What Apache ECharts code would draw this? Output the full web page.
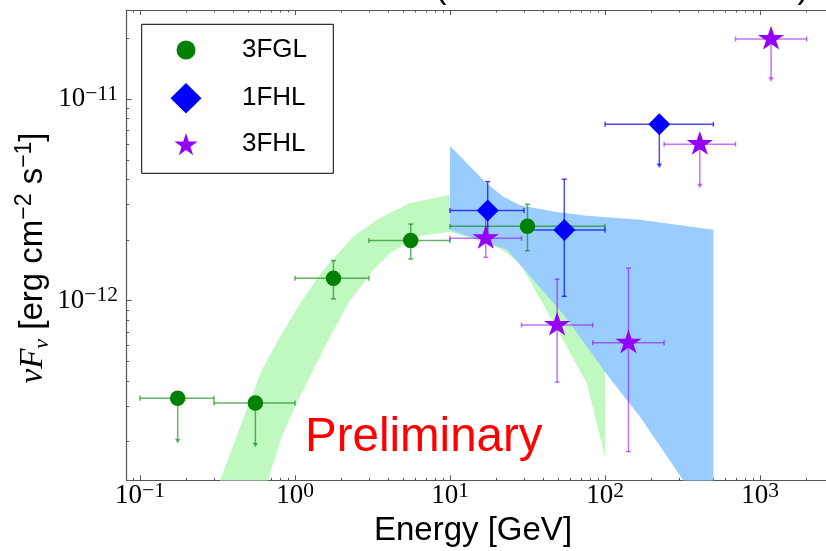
<!DOCTYPE html>
<html><head><meta charset="utf-8">
<script src="https://cdn.jsdelivr.net/npm/echarts@6/dist/echarts.min.js"></script>
<style>html,body{margin:0;padding:0;background:#fff}#c{width:826px;height:551px}</style>
</head><body><div id="c"></div>
<script>
// ---------------- data (energies in GeV, fluxes in erg cm^-2 s^-1) ----------------
// 3FGL
const fglE    = [0.175, 0.555, 1.77, 5.58, 31.6];
const fglEmin = [0.1, 0.3, 1, 3, 10];
const fglEmax = [0.3, 1, 3, 10, 100];
const fglF    = [3.28e-13, 3.10e-13, 1.29e-12, 1.99e-12, 2.34e-12];
const fglFlo  = [1.96e-13, 1.87e-13, 1.02e-12, 1.61e-12, 1.77e-12];
const fglFhi  = [3.28e-13, 3.10e-13, 1.58e-12, 2.40e-12, 3.01e-12];
const fglUL   = [1, 1, 0, 0, 0];
// 1FHL
const fhlE    = [17.5, 54.6, 224];
const fhlEmin = [10, 30, 100];
const fhlEmax = [30, 100, 500];
const fhlF    = [2.80e-12, 2.24e-12, 7.51e-12];
const fhlFlo  = [2.05e-12, 1.05e-12, 4.56e-12];
const fhlFhi  = [3.90e-12, 4.01e-12, 7.51e-12];
const fhlUL   = [0, 0, 1];
// 3FHL
const thlE    = [17.0, 49.1, 141.6, 408.8, 1178];
const thlEmin = [10, 28.9, 83.3, 240.6, 694.5];
const thlEmax = [28.9, 83.3, 240.6, 694.5, 2000];
const thlF    = [2.04e-12, 7.57e-13, 6.18e-13, 5.98e-12, 1.99e-11];
const thlFlo  = [1.64e-12, 3.94e-13, 1.78e-13, 3.61e-12, 1.22e-11];
const thlFhi  = [3.00e-12, 1.28e-12, 1.45e-12, 5.98e-12, 1.99e-11];
const thlUL   = [0, 0, 0, 1, 1];
// 3FGL butterfly (upper edge, lower edge)
const gUpE = [0.328, 0.61, 0.80, 1.08, 1.52, 2.38, 3.37, 5.52, 10, 15.6, 28.3, 51.3, 100];
const gUpF = [1.28e-13, 4.53e-13, 6.62e-13, 9.71e-13, 1.42e-12, 2.08e-12, 2.52e-12, 3.05e-12, 3.35e-12, 3.31e-12, 2.75e-12, 1.89e-12, 1.0e-12];
const gLoE = [0.667, 0.821, 1.026, 1.31, 1.68, 2.21, 3.20, 4.10, 6.10, 10, 17.2, 21.6, 28.3, 44.2, 76.2, 100];
const gLoF = [1.28e-13, 2.11e-13, 3.10e-13, 4.53e-13, 6.62e-13, 9.71e-13, 1.42e-12, 1.72e-12, 2.08e-12, 2.20e-12, 1.93e-12, 1.79e-12, 1.53e-12, 8.33e-13, 3.89e-13, 1.68e-13];
// 1FHL butterfly
const bUpE = [10, 13.5, 17.2, 22.1, 28.3, 46.4, 76.2, 168, 500, 500];
const bUpF = [5.86e-12, 4.63e-12, 3.83e-12, 3.28e-12, 2.98e-12, 2.77e-12, 2.64e-12, 2.52e-12, 2.25e-12, 1.28e-13];
const bLoE = [10, 23.3, 55.2, 101, 168, 320];
const bLoF = [2.25e-12, 1.79e-12, 8.33e-13, 4.37e-13, 2.65e-13, 1.28e-13];
// axis ticks (exponents)
const xMajorExp = [-1, 0, 1, 2, 3];
const yMajorExp = [-12, -11];
const xRange = [-1.0858, 3.490];
const yRange = [-12.892, -10.557];

// ---------------- build ----------------
const lg = Math.log10;
function minorTicks(lo, hi) {
  const out = [];
  for (let n = Math.floor(lo) - 1; n <= Math.ceil(hi); n++)
    for (let k = 2; k <= 9; k++) { const v = n + lg(k); if (v > lo && v < hi) out.push(v); }
  return out;
}
const xMinor = minorTicks(xRange[0], xRange[1]);
const yMinor = minorTicks(yRange[0], yRange[1]);

function starPts(cx, cy, r, ri) {
  const p = [];
  for (let k = 0; k < 10; k++) {
    const a = -Math.PI / 2 + k * Math.PI / 5, rr = k % 2 ? ri : r;
    p.push([cx + rr * Math.cos(a), cy + rr * Math.sin(a)]);
  }
  return p;
}
const starPath = 'path://' + starPts(0, 0, 10, 3.82).map((p, i) => (i ? 'L' : 'M') + p[0].toFixed(3) + ' ' + p[1].toFixed(3)).join(' ') + ' Z';

const lineC = '#555';
const supLabel = v => '{b|10}{s|' + (v < 0 ? '\u2212' + (-Math.round(v)) : Math.round(v)) + '}';
const labRich = {
  b: { fontFamily: 'Liberation Serif', fontSize: 27, lineHeight: 32, color: '#000' },
  s: { fontFamily: 'Liberation Serif', fontSize: 21.5, lineHeight: 19, verticalAlign: 'top', color: '#000' }
};
const G = { left: 126.7, top: 10, width: 709.3, height: 470.3, outerBoundsMode: 'none', containLabel: false };

function bandSeries(upE, upF, loE, loF, color, z) {
  const E = upE.concat(loE.slice().reverse());
  const F = upF.concat(loF.slice().reverse());
  const data = E.map((e, i) => [lg(e), lg(F[i])]);
  return {
    type: 'custom', xAxisIndex: 0, yAxisIndex: 0, z, silent: true, clip: false,
    data, encode: { x: 0, y: 1 },
    renderItem(params, api) {
      if (params.dataIndex !== 0) return null;
      return { type: 'polygon', shape: { points: data.map(d => api.coord(d)) }, style: { fill: color } };
    }
  };
}
function errSeries(E, Emin, Emax, F, Flo, Fhi, UL, color) {
  const data = E.map((e, i) => [lg(e), lg(F[i]), lg(Emin[i]), lg(Emax[i]), lg(Flo[i]), lg(Fhi[i]), UL[i]]);
  return {
    type: 'custom', xAxisIndex: 0, yAxisIndex: 0, z: 3, silent: true, clip: false,
    data, encode: { x: 0, y: 1 },
    renderItem(params, api) {
      const x = api.value(0), y = api.value(1);
      const p = api.coord([x, y]);
      const pl = api.coord([api.value(2), y]), pr = api.coord([api.value(3), y]);
      const st = { stroke: color, lineWidth: 1.5, fill: null };
      const c = 2.5, ch = [];
      const L = (x1, y1, x2, y2) => ch.push({ type: 'line', shape: { x1, y1, x2, y2 }, style: st });
      L(pl[0], p[1], pr[0], p[1]);
      L(pl[0], p[1] - c, pl[0], p[1] + c);
      L(pr[0], p[1] - c, pr[0], p[1] + c);
      const pb = api.coord([x, api.value(4)]);
      if (api.value(6)) {
        L(p[0], p[1], p[0], pb[1] - 3);
        ch.push({ type: 'polygon', shape: { points: [[p[0] - 2.8, pb[1] - 4.5], [p[0] + 2.8, pb[1] - 4.5], [p[0], pb[1]]] }, style: { fill: color } });
      } else {
        const pt = api.coord([x, api.value(5)]);
        L(p[0], pt[1], p[0], pb[1]);
        L(p[0] - c, pt[1], p[0] + c, pt[1]);
        L(p[0] - c, pb[1], p[0] + c, pb[1]);
      }
      return { type: 'group', children: ch };
    }
  };
}
function pts(E, F) { return E.map((e, i) => [lg(e), lg(F[i])]); }

const green = '#008000', blue = '#0000ff', purple = '#9400f8';
const chart = echarts.init(document.getElementById('c'), null, { renderer: 'canvas' });
const axBase = (min, max) => ({ type: 'value', min, max, splitLine: { show: false }, axisPointer: { show: false } });
chart.setOption({
  animation: false,
  backgroundColor: '#fff',
  grid: [Object.assign({}, G), Object.assign({}, G)],
  xAxis: [
    Object.assign(axBase(xRange[0], xRange[1]), { gridIndex: 0, position: 'bottom',
      axisLine: { show: true, onZero: false, lineStyle: { color: lineC, width: 1.2 } },
      axisTick: { inside: true, length: 5, customValues: xMajorExp, lineStyle: { color: lineC } },
      axisLabel: { customValues: xMajorExp, formatter: supLabel, rich: labRich, margin: 0 } }),
    Object.assign(axBase(xRange[0], xRange[1]), { gridIndex: 0, position: 'top',
      axisLine: { show: true, onZero: false, lineStyle: { color: lineC, width: 1.2 } },
      axisTick: { inside: true, length: 5, customValues: xMajorExp, lineStyle: { color: lineC } },
      axisLabel: { show: false } }),
    Object.assign(axBase(xRange[0], xRange[1]), { gridIndex: 1, position: 'bottom',
      axisLine: { show: false, onZero: false },
      axisTick: { inside: true, length: 2.5, customValues: xMinor, lineStyle: { color: lineC } },
      axisLabel: { show: false } }),
    Object.assign(axBase(xRange[0], xRange[1]), { gridIndex: 1, position: 'top',
      axisLine: { show: false, onZero: false },
      axisTick: { inside: true, length: 2.5, customValues: xMinor, lineStyle: { color: lineC } },
      axisLabel: { show: false } })
  ],
  yAxis: [
    Object.assign(axBase(yRange[0], yRange[1]), { gridIndex: 0, position: 'left',
      axisLine: { show: true, onZero: false, lineStyle: { color: lineC, width: 1.2 } },
      axisTick: { show: true, inside: true, length: 5, customValues: yMajorExp, lineStyle: { color: lineC } },
      axisLabel: { customValues: yMajorExp, formatter: supLabel, rich: labRich, margin: 8.7 } }),
    Object.assign(axBase(yRange[0], yRange[1]), { gridIndex: 1, position: 'left',
      axisLine: { show: false, onZero: false },
      axisTick: { show: true, inside: true, length: 2.5, customValues: yMinor, lineStyle: { color: lineC } },
      axisLabel: { show: false } })
  ],
  series: [
    bandSeries(gUpE, gUpF, gLoE, gLoF, '#c0f9c0', 1),
    bandSeries(bUpE, bUpF, bLoE, bLoF, '#9acdff', 2),
    errSeries(fglE, fglEmin, fglEmax, fglF, fglFlo, fglFhi, fglUL, 'rgba(0,128,0,0.6)'),
    errSeries(fhlE, fhlEmin, fhlEmax, fhlF, fhlFlo, fhlFhi, fhlUL, 'rgba(0,0,255,0.7)'),
    errSeries(thlE, thlEmin, thlEmax, thlF, thlFlo, thlFhi, thlUL, 'rgba(148,0,248,0.55)'),
    { name: '3FGL', type: 'scatter', xAxisIndex: 0, yAxisIndex: 0, z: 5, symbol: 'circle', symbolSize: 15.5,
      itemStyle: { color: green, opacity: 1 }, data: pts(fglE, fglF), silent: true },
    { name: '1FHL', type: 'scatter', xAxisIndex: 0, yAxisIndex: 0, z: 5, symbol: 'diamond', symbolSize: [22, 22],
      itemStyle: { color: blue, opacity: 1 }, data: pts(fhlE, fhlF), silent: true },
    { name: '3FHL', type: 'scatter', xAxisIndex: 0, yAxisIndex: 0, z: 6, symbol: starPath, symbolKeepAspect: true,
      symbolSize: [26.3, 25], symbolOffset: [0, -1.3],
      itemStyle: { color: purple, opacity: 1 }, data: pts(thlE, thlF), silent: true }
  ],
  graphic: [
    { type: 'rect', z: 20, shape: { x: 141.7, y: 24.3, width: 191.6, height: 149 }, style: { fill: '#fff', stroke: '#000', lineWidth: 1 } },
    { type: 'circle', z: 21, shape: { cx: 186, cy: 50, r: 9.5 }, style: { fill: green } },
    { type: 'polygon', z: 21, shape: { points: [[186, 83], [201.5, 98.3], [186, 113.6], [170.5, 98.3]] }, style: { fill: blue } },
    { type: 'polygon', z: 21, shape: { points: starPts(186, 145.3, 12.2, 4.66) }, style: { fill: purple } },
    { type: 'text', z: 21, x: 242, y: 50, style: { text: '3FGL', fontFamily: 'Liberation Sans', fontSize: 26, fill: '#000', verticalAlign: 'middle' } },
    { type: 'text', z: 21, x: 242, y: 98, style: { text: '1FHL', fontFamily: 'Liberation Sans', fontSize: 26, fill: '#000', verticalAlign: 'middle' } },
    { type: 'text', z: 21, x: 242, y: 144, style: { text: '3FHL', fontFamily: 'Liberation Sans', fontSize: 26, fill: '#000', verticalAlign: 'middle' } },
    { type: 'text', z: 21, x: 305, y: 438, style: { text: 'Preliminary', fontFamily: 'Liberation Sans', fontSize: 47.5, fill: '#ff0000', verticalAlign: 'middle' } },
    { type: 'text', z: 21, x: 473, y: 531, style: { text: 'Energy [GeV]', fontFamily: 'Liberation Sans', fontSize: 33, fill: '#000', align: 'center', verticalAlign: 'middle' } },
    { type: 'text', z: 21, x: 33, y: 258, rotation: Math.PI / 2, style: {
        text: '{i|\u03bdF}{sub|\u03bd}{t| [erg cm}{sup|\u22122}{t| s}{sup|\u22121}{t|]}',
        align: 'center', verticalAlign: 'middle', fill: '#000',
        rich: {
          i: { fontFamily: 'Liberation Serif', fontStyle: 'italic', fontSize: 33, lineHeight: 40 },
          sub: { fontFamily: 'Liberation Serif', fontStyle: 'italic', fontSize: 22, lineHeight: 22, verticalAlign: 'bottom' },
          t: { fontFamily: 'Liberation Sans', fontSize: 33, lineHeight: 40 },
          sup: { fontFamily: 'Liberation Sans', fontSize: 23, lineHeight: 23, verticalAlign: 'top' }
        } } },
    { type: 'text', z: 21, x: 441, y: -11, style: { text: '(', fontFamily: 'Liberation Sans', fontSize: 33, fill: '#000', align: 'center', verticalAlign: 'middle' } },
    { type: 'text', z: 21, x: 803, y: -11, style: { text: ')', fontFamily: 'Liberation Sans', fontSize: 33, fill: '#000', align: 'center', verticalAlign: 'middle' } }
  ]
});
</script></body></html>
